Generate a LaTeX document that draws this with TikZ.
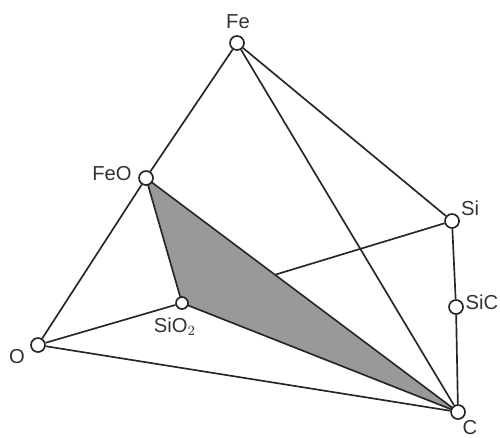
\documentclass[tikz,border=0pt]{standalone}
\usepackage{fontspec}
\setmainfont{Liberation Sans}
\usetikzlibrary{backgrounds}

\begin{document}
\begin{tikzpicture}[
  vertex/.style={draw=black!85, fill=white, circle, line width=0.95pt, minimum size=0.28cm, inner sep=0pt},
  smallvertex/.style={vertex, minimum size=0.24cm},
  edge/.style={draw=black!85, line width=0.95pt},
  face/.style={draw=black!85, fill=black!40, line width=0.95pt, line join=round},
  lbl/.style={font=\fontsize{11.5}{13}\selectfont, text=black!80, inner sep=0pt}
]
\useasboundingbox (0,0) rectangle (10,8.74);

% --- Corners of the tetrahedron and points on its edges ---
\node[vertex] (Fe) at (4.74,7.88) {};
\node[vertex] (FeO) at (2.92,5.18) {};
\node[vertex] (O) at (0.76,1.84) {};
\node[smallvertex] (SiOtwo) at (3.64,2.68) {};
\node[vertex] (Si) at (9.04,4.32) {};
\node[vertex] (SiC) at (9.12,2.60) {};
\node[vertex] (C) at (9.16,0.50) {};

% --- Labels ---
\node[lbl] (FeLbl) at (4.76,8.30) {Fe};
\node[lbl] (FeOLbl) at (2.24,5.26) {FeO};
\node[lbl] (OLbl) at (0.34,1.60) {O};
\node[lbl] (SiOtwoLbl) at (3.50,2.20) {SiO$_2$};
\node[lbl] (SiLbl) at (9.40,4.58) {Si};
\node[lbl] (SiCLbl) at (9.64,2.70) {SiC};
\node[lbl] (CLbl) at (9.40,0.18) {C};

% --- Outer edges ---
\draw[edge] (Fe) -- (FeO);
\draw[edge] (FeO) -- (O);
\draw[edge] (Fe) -- (Si);
\draw[edge] (Fe) -- (C);
\draw[edge] (Si) -- (SiC);
\draw[edge] (SiC) -- (C);
\draw[edge] (O) -- (C);
\draw[edge] (O) -- (SiOtwo);

% hidden part of the back edge goes under the shaded face
\begin{scope}[on background layer]
  \draw[edge] (SiOtwo.center) -- (Si);
  \draw[face] (FeO.center) -- (SiOtwo.center) -- (C.center) -- cycle;
\end{scope}

\end{tikzpicture}
\end{document}
